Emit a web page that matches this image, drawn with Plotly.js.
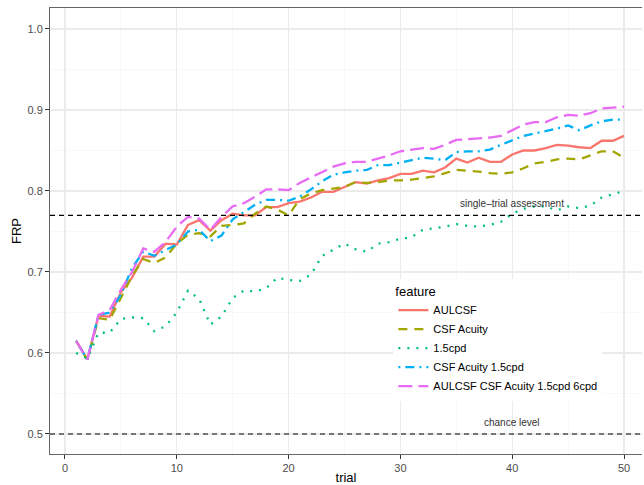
<!DOCTYPE html>
<html>
<head>
<meta charset="utf-8">
<script src="https://cdn.plot.ly/plotly-3.0.1.min.js"></script>
<style>html,body{margin:0;padding:0;overflow:hidden;background:#fff}</style>
</head>
<body>
<div id="chart" style="width:644px;height:485px"></div>
<script>
const trials = Array.from({length: 50}, (_, i) => i + 1);

const aulcsf = [0.615,0.592,0.646,0.645,0.675,0.693,0.719,0.719,0.735,0.734,
  0.758,0.764,0.751,0.764,0.772,0.770,0.770,0.780,0.780,0.785,
  0.787,0.792,0.799,0.799,0.805,0.811,0.809,0.813,0.816,0.821,
  0.821,0.825,0.823,0.829,0.840,0.835,0.841,0.836,0.836,0.845,
  0.850,0.850,0.853,0.857,0.856,0.854,0.853,0.862,0.862,0.868];

const csfAcuity = [0.615,0.592,0.643,0.641,0.668,0.695,0.716,0.711,0.718,0.735,
  0.746,0.748,0.744,0.757,0.758,0.760,0.772,0.781,0.777,0.770,
  0.790,0.797,0.801,0.803,0.805,0.811,0.810,0.811,0.813,0.813,
  0.814,0.816,0.818,0.822,0.826,0.825,0.824,0.822,0.821,0.823,
  0.828,0.834,0.836,0.839,0.840,0.839,0.844,0.849,0.849,0.841];

const cpd15 = [0.600,0.593,0.625,0.625,0.642,0.644,0.643,0.627,0.633,0.650,
  0.677,0.667,0.635,0.645,0.668,0.677,0.676,0.680,0.693,0.690,
  0.689,0.697,0.720,0.727,0.735,0.728,0.725,0.735,0.737,0.741,
  0.743,0.752,0.754,0.756,0.759,0.757,0.756,0.758,0.762,0.772,
  0.778,0.781,0.781,0.776,0.781,0.779,0.782,0.792,0.796,0.800];

const csfAcuity15 = [0.615,0.592,0.647,0.650,0.672,0.705,0.725,0.720,0.727,0.734,
  0.750,0.752,0.738,0.745,0.765,0.774,0.783,0.789,0.789,0.788,
  0.793,0.802,0.812,0.820,0.823,0.825,0.826,0.832,0.832,0.835,
  0.838,0.841,0.840,0.838,0.848,0.849,0.849,0.851,0.857,0.863,
  0.868,0.871,0.874,0.877,0.881,0.875,0.881,0.886,0.888,0.888];

const allFeatures = [0.615,0.592,0.647,0.653,0.678,0.700,0.729,0.725,0.737,0.756,
  0.768,0.766,0.752,0.768,0.781,0.785,0.793,0.802,0.802,0.801,
  0.810,0.817,0.823,0.830,0.834,0.836,0.836,0.840,0.844,0.849,
  0.851,0.853,0.852,0.857,0.863,0.864,0.865,0.866,0.868,0.875,
  0.882,0.885,0.885,0.891,0.894,0.893,0.896,0.902,0.903,0.904];

const seriesNames = ["AULCSF", "CSF Acuity", "1.5cpd", "CSF Acuity 1.5cpd", "AULCSF CSF Acuity 1.5cpd 6cpd"];
const seriesValues = [aulcsf, csfAcuity, cpd15, csfAcuity15, allFeatures];
const seriesColors = ["#F8766D", "#A3A500", "#00BF7D", "#00B0F6", "#E76BF3"];
const seriesDash = ["solid", "9px,7px", "2px,7px", "2px,5px,9px,5px", "14px,6px"];

const refLevels = [0.77, 0.5];
const refLabels = ["single\u2013trial assessment", "chance level"];
const refLabelX = [40, 40];
const refLabelY = [0.784, 0.5146];

const xTicks = [0, 10, 20, 30, 40, 50];

const traces = seriesNames.map((name, i) => ({
  type: "scatter",
  mode: "lines",
  name: name,
  x: trials,
  y: seriesValues[i],
  line: {color: seriesColors[i], width: 2.3, dash: seriesDash[i]},
  hoverinfo: "skip"
}));

const FONT = "Liberation Sans, Arial, Helvetica, sans-serif";

const layout = {
  width: 644,
  height: 485,
  margin: {l: 50, r: 2, t: 8, b: 31},
  paper_bgcolor: "#ffffff",
  plot_bgcolor: "#ffffff",
  font: {family: FONT, color: "#000"},
  showlegend: true,
  xaxis: {
    range: [-1.34, 51.61],
    tickvals: xTicks,
    ticks: "outside",
    ticklen: 4,
    tickwidth: 1,
    tickcolor: "#333333",
    showline: true,
    linecolor: "#666666",
    linewidth: 1,
    mirror: true,
    showgrid: true,
    gridcolor: "#ebebeb",
    gridwidth: 1.1,
    minor: {dtick: 5, tick0: 0, showgrid: true, gridcolor: "#f4f4f4", gridwidth: 0.6},
    zeroline: false,
    tickfont: {family: FONT, size: 11, color: "#4d4d4d"},
    title: {text: "trial", font: {family: FONT, size: 13, color: "#000"}, standoff: 1},
    automargin: false
  },
  yaxis: {
    range: [0.4753, 1.0259],
    dtick: 0.1,
    tick0: 0,
    tickformat: ".1f",
    ticks: "outside",
    ticklen: 4,
    tickwidth: 1,
    tickcolor: "#333333",
    showline: true,
    linecolor: "#666666",
    linewidth: 1,
    showgrid: true,
    gridcolor: "#ebebeb",
    gridwidth: 1.1,
    minor: {dtick: 0.05, tick0: 0, showgrid: true, gridcolor: "#f4f4f4", gridwidth: 0.6},
    zeroline: false,
    tickfont: {family: FONT, size: 11, color: "#4d4d4d"},
    title: {text: "FRP", font: {family: FONT, size: 13, color: "#000"}, standoff: 2},
    automargin: false
  },
  legend: {
    x: 0.58, y: 0.393, xanchor: "left", yanchor: "top",
    bgcolor: "#ffffff",
    font: {family: FONT, size: 11, color: "#000"},
    title: {text: "feature", font: {family: FONT, size: 13, color: "#000"}},
    tracegroupgap: 0,
    itemwidth: 30
  },
  shapes: refLevels.map(v => ({
    type: "line", xref: "paper", x0: 0, x1: 1, yref: "y", y0: v, y1: v,
    line: {color: "#000000", width: 1.2, dash: "5px,4px"}, layer: "above"
  })),
  annotations: refLabels.map((t, i) => ({
    text: t, x: refLabelX[i], y: refLabelY[i], xref: "x", yref: "y",
    showarrow: false, font: {family: FONT, size: 10, color: "#333"}
  }))
};

Plotly.newPlot("chart", traces, layout, {staticPlot: true, displayModeBar: false});
</script>
</body>
</html>
